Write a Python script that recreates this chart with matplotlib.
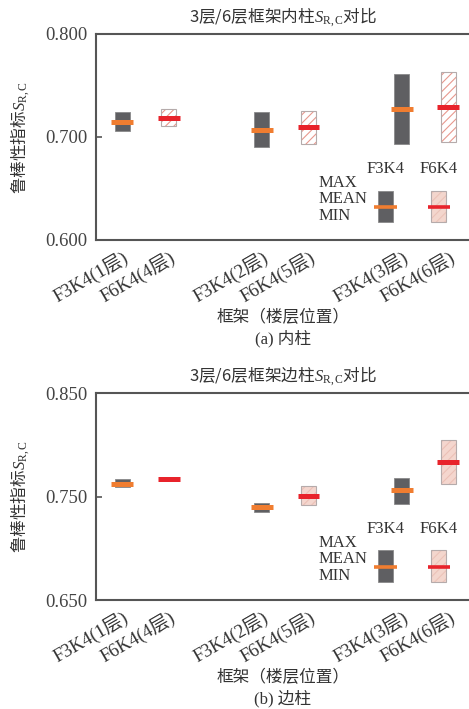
import numpy as np
import matplotlib
matplotlib.use("Agg")
from matplotlib import pyplot as plt
from matplotlib.transforms import ScaledTranslation

plt.rcParams['font.family'] = ['Liberation Serif', 'Noto Sans CJK SC']
plt.rcParams['mathtext.fontset'] = 'custom'
plt.rcParams['mathtext.rm'] = 'Liberation Serif'
plt.rcParams['mathtext.it'] = 'Liberation Serif:italic'
plt.rcParams['hatch.linewidth'] = 0.8

# category labels, F3K4 / F6K4 alternating, grouped by storey
labels = ['F3K4(1层)', 'F6K4(4层)', 'F3K4(2层)', 'F6K4(5层)', 'F3K4(3层)', 'F6K4(6层)']
xpos = [0, 1, 3, 4, 6, 7]

# interior columns (a)
in_max = [0.724, 0.727, 0.724, 0.725, 0.761, 0.763]
in_mean = [0.715, 0.718, 0.707, 0.710, 0.727, 0.729]
in_min = [0.706, 0.711, 0.690, 0.693, 0.693, 0.695]

# edge columns (b)
ed_max = [0.767, 0.768, 0.744, 0.760, 0.768, 0.805]
ed_mean = [0.762, 0.767, 0.740, 0.751, 0.756, 0.784]
ed_min = [0.759, 0.766, 0.735, 0.742, 0.743, 0.762]

dark = '#5f5f62'
orange = '#f07d30'
red = '#e8232b'
txt = '#333333'

fig = plt.figure(figsize=(4.69, 7.09), dpi=100)


def panel(rect, vmax, vmean, vmin, ylim, yticks, f6_face, f6_hatch, title, caption):
    ax = fig.add_axes(rect)
    bw = 0.32
    mw = 0.47
    for i, x in enumerate(xpos):
        lo, hi = vmin[i], vmax[i]
        if i % 2 == 0:
            ax.bar(x, hi - lo, bw, bottom=lo, color=dark, edgecolor='#8a8a8a',
                   linewidth=0.6, zorder=2)
            mc = orange
        else:
            ax.bar(x, hi - lo, bw, bottom=lo, color=f6_face, edgecolor=f6_hatch,
                   hatch='////', linewidth=0, zorder=2)
            ax.bar(x, hi - lo, bw, bottom=lo, fill=False, edgecolor='#b5abab',
                   linewidth=0.8, zorder=3)
            mc = red
        ax.plot([x - mw / 2, x + mw / 2], [vmean[i], vmean[i]], color=mc,
                linewidth=3.6, solid_capstyle='butt', zorder=4)

    ax.set_xlim(-0.56, 7.46)
    ax.set_ylim(*ylim)
    ax.set_yticks(yticks)
    ax.set_yticklabels(['%.3f' % v for v in yticks])
    ax.set_xticks(xpos)
    ax.set_xticklabels(labels, rotation=30, ha='right', rotation_mode='anchor')
    shift = ScaledTranslation(7 / 72, 0, fig.dpi_scale_trans)
    for lab in ax.get_xticklabels():
        lab.set_transform(lab.get_transform() + shift)
    ax.tick_params(axis='x', length=0, pad=6, labelsize=13.5, labelcolor=txt)
    ax.tick_params(axis='y', direction='in', length=4, width=1.2, color='#555555',
                   labelsize=13.5, labelcolor='#444444', pad=6)
    for s in ['left', 'bottom', 'top']:
        ax.spines[s].set_color('#555555')
        ax.spines[s].set_linewidth(1.5)
    ax.spines['right'].set_visible(False)

    # legend sketch in the lower right corner
    tr = ax.transAxes
    for cx, name in [(0.775, 'F3K4'), (0.917, 'F6K4')]:
        ax.text(cx, 0.345, name, transform=tr, ha='center', va='center',
                fontsize=12, color=txt)
    ax.add_patch(plt.Rectangle((0.775 - 0.02, 0.085), 0.04, 0.155, transform=tr,
                               facecolor=dark, edgecolor='#8a8a8a', linewidth=0.6, zorder=2))
    ax.add_patch(plt.Rectangle((0.917 - 0.02, 0.085), 0.04, 0.155, transform=tr,
                               facecolor='#f3d6cd', edgecolor='#ebc3b9', hatch='////',
                               linewidth=0, zorder=2))
    ax.add_patch(plt.Rectangle((0.917 - 0.02, 0.085), 0.04, 0.155, transform=tr,
                               fill=False, edgecolor='#b5abab', linewidth=0.8, zorder=3))
    ax.plot([0.775 - 0.03, 0.775 + 0.03], [0.162, 0.162], transform=tr, color=orange,
            linewidth=2.6, solid_capstyle='butt', zorder=4)
    ax.plot([0.917 - 0.03, 0.917 + 0.03], [0.162, 0.162], transform=tr, color=red,
            linewidth=2.6, solid_capstyle='butt', zorder=4)
    for yy, s in [(0.275, 'MAX'), (0.197, 'MEAN'), (0.117, 'MIN')]:
        ax.text(0.596, yy, s, transform=tr, ha='left', va='center', fontsize=12,
                color=txt)

    top = rect[1] + rect[3]
    fig.text(0.603, top + 0.024, title, ha='center', va='center', fontsize=12,
             color=txt, family=['Noto Sans CJK SC'])
    fig.text(20 / 469, rect[1] + rect[3] / 2, '鲁棒性指标$S_{\\mathrm{R,C}}$',
             rotation=90, ha='center', va='center', fontsize=12, color=txt,
             family=['Noto Sans CJK SC'])
    fig.text(0.603, rect[1] - 0.109, '框架（楼层位置）', ha='center', va='center',
             fontsize=12, color=txt, family=['Noto Sans CJK SC'])
    fig.text(0.603, rect[1] - 0.139, caption, ha='center', va='center',
             fontsize=12, color=txt)
    return ax


panel([0.2047, 0.6615, 0.797, 0.2906], in_max, in_mean, in_min,
      (0.6, 0.8), [0.6, 0.7, 0.8], 'white', '#e8988e',
      '3层/6层框架内柱$S_{\\mathrm{R,C}}$对比', '(a) 内柱')
panel([0.2047, 0.1537, 0.797, 0.2915], ed_max, ed_mean, ed_min,
      (0.65, 0.85), [0.65, 0.75, 0.85], '#f4d6ce', '#ebc0b6',
      '3层/6层框架边柱$S_{\\mathrm{R,C}}$对比', '(b) 边柱')

plt.savefig('out.png', dpi=100)
